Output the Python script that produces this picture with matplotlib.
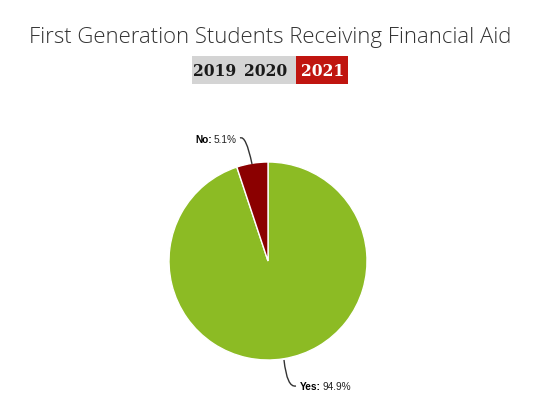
import numpy as np
import matplotlib.pyplot as plt
from matplotlib.path import Path
import matplotlib.patches as mpatches

# -----------------------------
# Data
# -----------------------------
labels = ["Yes", "No"]
values = [94.9, 5.1]
colors = ["#8cbb24", "#8b0000"]
years = ["2019", "2020", "2021"]
title = "First Generation Students Receiving Financial Aid"

W, H = 560, 406

fig = plt.figure(figsize=(W / 100, H / 100), dpi=100)
ax = fig.add_axes([0, 0, 1, 1])

def py(y):
    # pixel row (from top) -> data y
    return H - y

# pie
cx, cy, r = 268, py(262), 99
ax.pie(values, colors=colors, startangle=90, counterclock=False,
       center=(cx, cy), radius=r, frame=True,
       wedgeprops=dict(edgecolor="white", linewidth=1))
ax.set_xlim(0, W)
ax.set_ylim(0, H)
ax.set_aspect("auto")
ax.axis("off")

# title
ax.text(270, py(37), title, ha="center", va="center", fontsize=15.9,
        family="Open Sans", fontweight="light", color="#333333")

# year buttons
ax.add_patch(mpatches.Rectangle((192, py(85)), 104, 28, color="#d4d4d4", lw=0))
ax.add_patch(mpatches.Rectangle((296, py(85)), 52, 28, color="#c0150f", lw=0))
for x, yr, c in zip([214.5, 265.5, 322.5], years, ["#1a1a1a", "#1a1a1a", "white"]):
    ax.text(x, py(71.5), yr, ha="center", va="center", fontsize=11.2,
            family="DejaVu Serif", fontweight="bold", color=c)

# connectors
def connector(p0, p1, p2):
    path = Path([p0, p1, p2], [Path.MOVETO, Path.CURVE3, Path.CURVE3])
    ax.add_patch(mpatches.PathPatch(path, fill=False, edgecolor="#333333", lw=1))

connector((252, py(165)), (246, py(136)), (240, py(139)))
connector((284, py(361)), (287, py(389)), (296, py(387)))

# data labels
def data_label(x, y, name, val):
    t1 = ax.text(x, y, name + ":", fontsize=7.3, fontweight="bold",
                 family="Liberation Sans", va="center", ha="left", color="black")
    fig.canvas.draw()
    bb = t1.get_window_extent()
    ax.text(x + bb.width + 2, y, val, fontsize=7.3, family="Liberation Sans",
            va="center", ha="left", color="#222222")

data_label(300, py(387), "Yes", "94.9%")
data_label(195, py(140), "No", "5.1%")

plt.savefig("out.png", dpi=100)
